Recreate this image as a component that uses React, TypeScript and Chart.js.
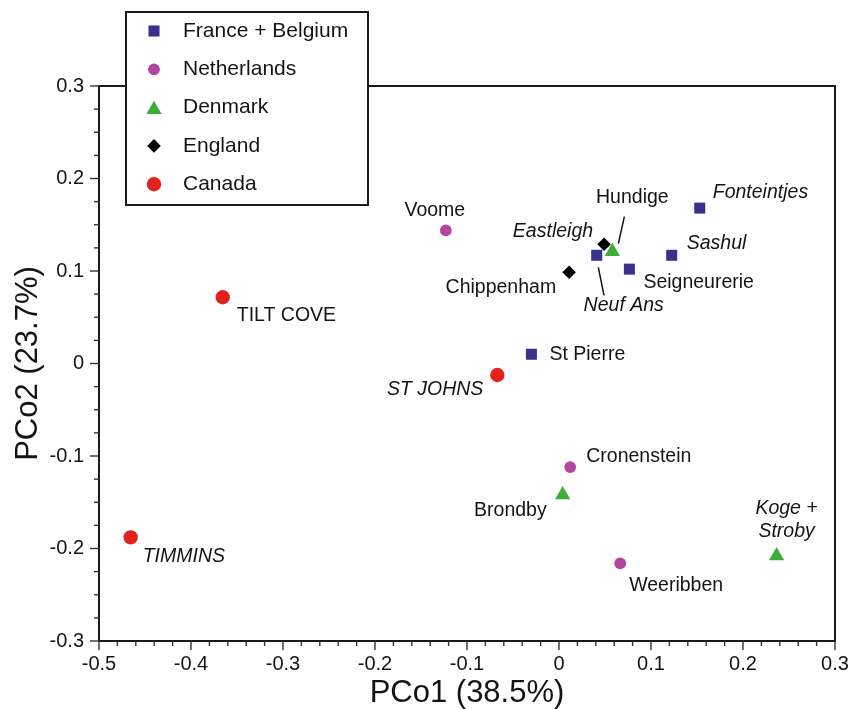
import React, { useEffect, useRef } from 'react';
import { Chart, registerables } from 'chart.js';

Chart.register(...registerables);

// ---------- axis ranges / ticks ----------
const xMin = -0.5;
const xMax = 0.3;
const yMin = -0.3;
const yMax = 0.3;
const majorStep = 0.1;
const xMinorPerMajor = 5;
const yMinorPerMajor = 4;
const xTitle = 'PCo1 (38.5%)';
const yTitle = 'PCo2 (23.7%)';

// ---------- data ----------
const seriesNames = ['France + Belgium', 'Netherlands', 'Denmark', 'England', 'Canada'];

const franceBelgiumSites = ['Fonteintjes', 'Sashul', 'Neuf Ans', 'Seigneurerie', 'St Pierre'];
const franceBelgiumX = [0.153, 0.1225, 0.041, 0.0765, -0.030];
const franceBelgiumY = [0.168, 0.117, 0.117, 0.102, 0.010];

const netherlandsSites = ['Voome', 'Cronenstein', 'Weeribben'];
const netherlandsX = [-0.123, 0.0122, 0.0665];
const netherlandsY = [0.144, -0.112, -0.216];

const denmarkSites = ['Hundige', 'Brondby', 'Koge + Stroby'];
const denmarkX = [0.058, 0.004, 0.2365];
const denmarkY = [0.121, -0.142, -0.208];

const englandSites = ['Eastleigh', 'Chippenham'];
const englandX = [0.049, 0.011];
const englandY = [0.129, 0.0986];

const canadaSites = ['TILT COVE', 'ST JOHNS', 'TIMMINS'];
const canadaX = [-0.3655, -0.067, -0.4656];
const canadaY = [0.0716, -0.0124, -0.188];

const groupSites = [franceBelgiumSites, netherlandsSites, denmarkSites, englandSites, canadaSites];
const groupX = [franceBelgiumX, netherlandsX, denmarkX, englandX, canadaX];
const groupY = [franceBelgiumY, netherlandsY, denmarkY, englandY, canadaY];

// ---------- styles ----------
const FONT = '"Liberation Sans", Arial, Helvetica, sans-serif';
const TEXT = '#141414';
const groupStyles = [
  { pointStyle: 'rect', radius: 7.8, color: '#38318d' },
  { pointStyle: 'circle', radius: 5.9, color: '#b2469f' },
  { pointStyle: 'triangle', radius: 8.8, color: '#3fab39' },
  { pointStyle: 'rectRot', radius: 6.8, color: '#000000' },
  { pointStyle: 'circle', radius: 7.2, color: '#e3231b' },
];

type LabelLayout = {
  dx: number;
  dy: number;
  align: CanvasTextAlign;
  italic?: boolean;
  lines?: string[];
  lineGap?: number;
  leader?: [number, number, number, number];
};

const labelLayout: Record<string, LabelLayout> = {
  'Fonteintjes': { dx: 13, dy: -16, align: 'left', italic: true },
  'Sashul': { dx: 15, dy: -12, align: 'left', italic: true },
  'Neuf Ans': { dx: 27, dy: 50, align: 'center', italic: true, leader: [1.6, 12, 7.3, 40] },
  'Seigneurerie': { dx: 14, dy: 13, align: 'left' },
  'St Pierre': { dx: 18, dy: 0, align: 'left' },
  'Voome': { dx: -11, dy: -20, align: 'center' },
  'Cronenstein': { dx: 16, dy: -10, align: 'left' },
  'Weeribben': { dx: 9, dy: 22, align: 'left' },
  'Hundige': { dx: 20, dy: -54, align: 'center', leader: [12, -35, 6, -8] },
  'Brondby': { dx: -16, dy: 16, align: 'right' },
  'Koge + Stroby': { dx: 10, dy: -47, align: 'center', italic: true, lines: ['Koge +', 'Stroby'], lineGap: 23 },
  'Eastleigh': { dx: -11, dy: -13, align: 'right', italic: true },
  'Chippenham': { dx: -13, dy: 15, align: 'right' },
  'TILT COVE': { dx: 14, dy: 18, align: 'left' },
  'ST JOHNS': { dx: -14, dy: 15, align: 'right', italic: true },
  'TIMMINS': { dx: 12, dy: 19, align: 'left', italic: true },
};

const legendBox = { left: 126, top: 12, right: 368, bottom: 205, markerX: 154, textX: 183, firstRow: 31, rowGap: 38.3 };

function drawMarker(ctx: CanvasRenderingContext2D, style: string, r: number, x: number, y: number, color: string) {
  ctx.save();
  ctx.fillStyle = color;
  ctx.beginPath();
  if (style === 'rect') {
    const s = Math.SQRT1_2 * r;
    ctx.rect(x - s, y - s, 2 * s, 2 * s);
  } else if (style === 'circle') {
    ctx.arc(x, y, r, 0, Math.PI * 2);
  } else if (style === 'triangle') {
    ctx.moveTo(x, y - r);
    ctx.lineTo(x + r * Math.sin((2 * Math.PI) / 3), y - r * Math.cos((2 * Math.PI) / 3));
    ctx.lineTo(x + r * Math.sin((4 * Math.PI) / 3), y - r * Math.cos((4 * Math.PI) / 3));
    ctx.closePath();
  } else {
    ctx.moveTo(x - r, y);
    ctx.lineTo(x, y - r);
    ctx.lineTo(x + r, y);
    ctx.lineTo(x, y + r);
    ctx.closePath();
  }
  ctx.fill();
  ctx.restore();
}

const decorPlugin = {
  id: 'decor',
  afterDatasetsDraw(chart: any) {
    const ctx: CanvasRenderingContext2D = chart.ctx;
    ctx.save();
    ctx.fillStyle = TEXT;
    ctx.strokeStyle = TEXT;
    ctx.textBaseline = 'middle';
    chart.data.datasets.forEach((ds: any, i: number) => {
      const meta = chart.getDatasetMeta(i);
      const sites = groupSites[i];
      meta.data.forEach((el: any, j: number) => {
        const name = sites[j];
        const lay = labelLayout[name];
        if (!lay) return;
        ctx.font = `${lay.italic ? 'italic ' : ''}19.5px ${FONT}`;
        ctx.textAlign = lay.align;
        const lines = lay.lines || [name];
        lines.forEach((t, k) => {
          ctx.fillText(t, el.x + lay.dx, el.y + lay.dy + k * (lay.lineGap || 0));
        });
        if (lay.leader) {
          const [x1, y1, x2, y2] = lay.leader;
          ctx.lineWidth = 1.5;
          ctx.beginPath();
          ctx.moveTo(el.x + x1, el.y + y1);
          ctx.lineTo(el.x + x2, el.y + y2);
          ctx.stroke();
        }
      });
    });
    ctx.restore();
  },
  afterDraw(chart: any) {
    const ctx: CanvasRenderingContext2D = chart.ctx;
    const { left, right, top, bottom } = chart.chartArea;
    const xs = chart.scales.x;
    const ys = chart.scales.y;
    ctx.save();
    // frame
    ctx.strokeStyle = '#1a1a1a';
    ctx.lineWidth = 2;
    ctx.strokeRect(left, top, right - left, bottom - top);
    // ticks
    ctx.lineWidth = 1.4;
    ctx.strokeStyle = '#333';
    const xCount = Math.round(((xMax - xMin) / majorStep) * xMinorPerMajor);
    for (let k = 0; k <= xCount; k++) {
      const v = xMin + (k * majorStep) / xMinorPerMajor;
      const px = xs.getPixelForValue(v);
      const len = k % xMinorPerMajor === 0 ? 9 : 5;
      ctx.beginPath();
      ctx.moveTo(px, bottom);
      ctx.lineTo(px, bottom + len);
      ctx.stroke();
    }
    const yCount = Math.round(((yMax - yMin) / majorStep) * yMinorPerMajor);
    for (let k = 0; k <= yCount; k++) {
      const v = yMin + (k * majorStep) / yMinorPerMajor;
      const py = ys.getPixelForValue(v);
      const len = k % yMinorPerMajor === 0 ? 9 : 5;
      ctx.beginPath();
      ctx.moveTo(left, py);
      ctx.lineTo(left - len, py);
      ctx.stroke();
    }
    // legend
    const lb = legendBox;
    ctx.fillStyle = '#ffffff';
    ctx.fillRect(lb.left, lb.top, lb.right - lb.left, lb.bottom - lb.top);
    ctx.strokeStyle = '#1a1a1a';
    ctx.lineWidth = 2;
    ctx.strokeRect(lb.left, lb.top, lb.right - lb.left, lb.bottom - lb.top);
    ctx.font = `21px ${FONT}`;
    ctx.textAlign = 'left';
    ctx.textBaseline = 'middle';
    seriesNames.forEach((n, i) => {
      const y = lb.firstRow + i * lb.rowGap;
      const st = groupStyles[i];
      drawMarker(ctx, st.pointStyle, st.radius, lb.markerX, st.pointStyle === 'triangle' ? y + 2 : y, st.color);
      ctx.fillStyle = TEXT;
      ctx.fillText(n, lb.textX, y);
    });
    ctx.restore();
  },
};

function fmt(v: number) {
  const r = Math.round(v * 10) / 10;
  if (Math.abs(r) < 1e-9) return '0';
  return r.toFixed(1);
}

export default function App() {
  const ref = useRef<HTMLCanvasElement | null>(null);
  useEffect(() => {
    document.body.style.margin = '0';
    const canvas = ref.current;
    if (!canvas) return;
    const datasets = seriesNames.map((name, i) => ({
      label: name,
      data: groupX[i].map((x, j) => ({ x, y: groupY[i][j] })),
      pointStyle: groupStyles[i].pointStyle as any,
      pointRadius: groupStyles[i].radius,
      backgroundColor: groupStyles[i].color,
      borderColor: groupStyles[i].color,
      borderWidth: 0,
      showLine: false,
    }));
    const chart = new Chart(canvas, {
      type: 'scatter',
      data: { datasets },
      options: {
        animation: false,
        responsive: false,
        devicePixelRatio: 1,
        layout: { padding: { left: 0, top: 86, right: 16, bottom: 0 } },
        plugins: { legend: { display: false }, tooltip: { enabled: false } },
        scales: {
          x: {
            type: 'linear',
            min: xMin,
            max: xMax,
            afterFit: (s: any) => { s.height = 68; s.paddingLeft = 0; s.paddingRight = 0; },
            border: { display: false },
            grid: { display: true, drawOnChartArea: false, drawTicks: false },
            ticks: {
              stepSize: majorStep,
              padding: 11,
              color: TEXT,
              font: { family: FONT, size: 20 },
              maxRotation: 0,
              autoSkip: false,
              callback: (v: any) => fmt(Number(v)),
            },
            title: {
              display: true,
              text: xTitle,
              color: TEXT,
              font: { family: FONT, size: 31 },
              padding: { top: 0, bottom: -3 },
            },
          },
          y: {
            type: 'linear',
            min: yMin,
            max: yMax,
            afterFit: (s: any) => { s.width = 99; s.paddingTop = 0; s.paddingBottom = 0; },
            border: { display: false },
            grid: { display: true, drawOnChartArea: false, drawTicks: false },
            ticks: {
              stepSize: majorStep,
              padding: 15,
              color: TEXT,
              font: { family: FONT, size: 20 },
              autoSkip: false,
              callback: (v: any) => fmt(Number(v)),
            },
            title: {
              display: true,
              text: yTitle,
              color: TEXT,
              font: { family: FONT, size: 31 },
              padding: { top: 10, bottom: 0 },
            },
          },
        },
      },
      plugins: [decorPlugin],
    });
    return () => chart.destroy();
  }, []);
  return (
    <div style={{ position: 'absolute', left: 0, top: 0, width: 851, height: 709, background: '#fff' }}>
      <canvas ref={ref} width={851} height={709} style={{ display: 'block', width: 851, height: 709 }} />
    </div>
  );
}
